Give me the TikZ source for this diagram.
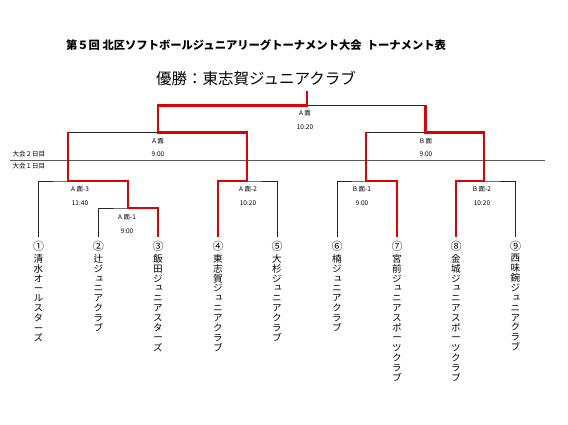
\documentclass[tikz,border=0pt]{standalone}
\usepackage{fontspec}
\usepackage{graphicx}
\setmainfont{Noto Sans CJK JP}
\newfontfamily\vfont[RawFeature=+vert]{Noto Sans CJK JP}
\newcommand\vlong{\rotatebox[origin=c]{-90}{ー}}
\begin{document}
\begin{tikzpicture}[x=1pt,y=-1pt,
  bk/.style={draw=black!85,line width=0.8pt},
  rd/.style={draw=red!88!black,line width=2.4pt,line join=miter},
  dline/.style={draw=black!65,line width=1pt},
  lbl/.style={inner sep=0pt,font=\fontsize{6.5}{7}\selectfont},
  num/.style={inner sep=0pt,font=\fontsize{11}{11}\selectfont},
  team/.style={inner sep=0pt,anchor=north,align=center,font=\vfont\fontsize{9.6}{9.9}\selectfont},
]
\useasboundingbox (0,0) rectangle (568,425);
% titles
\node[inner sep=0pt,font=\bfseries\fontsize{11.3}{12}\selectfont] (title) at (256,45) {第５回 北区ソフトボールジュニアリーグトーナメント大会\ \ トーナメント表};
\node[inner sep=0pt,font=\fontsize{15.5}{16}\selectfont] (winner) at (256,79) {優勝：東志賀ジュニアクラブ};
% day line
\coordinate (dl) at (10,160.5);
\coordinate (dr) at (545,160.5);
\draw[dline] (dl) -- (dr);
\node[lbl,anchor=west] (d2) at (12.5,154) {大会２日目};
\node[lbl,anchor=west] (d1) at (12.5,166.5) {大会１日目};
% team tops
\foreach \i/\x in {1/38.5,2/98.3,3/158,4/218,5/277,6/337,7/397,8/456,9/515.5}{
  \coordinate (p\i) at (\x,237);
}
% numbers
\node[num] (c1) at (38.5,246) {①};
\node[num] (c2) at (98.3,246) {②};
\node[num] (c3) at (158,246) {③};
\node[num] (c4) at (218,246) {④};
\node[num] (c5) at (277,246) {⑤};
\node[num] (c6) at (337,246) {⑥};
\node[num] (c7) at (397,246) {⑦};
\node[num] (c8) at (456,246) {⑧};
\node[num] (c9) at (515.5,246) {⑨};
% names
\node[team] (n1) at (38.5,254) {清\\水\\オ\\\vlong\\ル\\ス\\タ\\\vlong\\ズ};
\node[team] (n2) at (98.3,254) {辻\\ジ\\ュ\\ニ\\ア\\ク\\ラ\\ブ};
\node[team] (n3) at (158,254) {飯\\田\\ジ\\ュ\\ニ\\ア\\ス\\タ\\\vlong\\ズ};
\node[team] (n4) at (218,254) {東\\志\\賀\\ジ\\ュ\\ニ\\ア\\ク\\ラ\\ブ};
\node[team] (n5) at (277,254) {大\\杉\\ジ\\ュ\\ニ\\ア\\ク\\ラ\\ブ};
\node[team] (n6) at (337,254) {楠\\ジ\\ュ\\ニ\\ア\\ク\\ラ\\ブ};
\node[team] (n7) at (397,254) {宮\\前\\ジ\\ュ\\ニ\\ア\\ス\\ポ\\\vlong\\ツ\\ク\\ラ\\ブ};
\node[team] (n8) at (456,254) {金\\城\\ジ\\ュ\\ニ\\ア\\ス\\ポ\\\vlong\\ツ\\ク\\ラ\\ブ};
\node[team] (n9) at (515.5,254) {西\\味\\鋺\\ジ\\ュ\\ニ\\ア\\ク\\ラ\\ブ};
% junctions
\coordinate (ma1) at (128,208);
\coordinate (ma3) at (68,181);
\coordinate (ma2) at (247,181);
\coordinate (msa) at (158,132.5);
\coordinate (mb1) at (366,181);
\coordinate (mb2) at (484,181);
\coordinate (msb) at (425.5,132.5);
\coordinate (mf) at (307,105.5);
\coordinate (champ) at (307,91);
% black brackets
\draw[bk] (p2) |- (ma1) -| (p3);
\draw[bk] (p1) |- (ma3) -| (ma1);
\draw[bk] (p4) |- (ma2) -| (p5);
\draw[bk] (ma3) |- (msa) -| (ma2);
\draw[bk] (p6) |- (mb1) -| (p7);
\draw[bk] (p8) |- (mb2) -| (p9);
\draw[bk] (mb1) |- (msb) -| (mb2);
\draw[bk] (msa) |- (mf) -| (msb);
% red winner paths
\draw[rd] (p3) |- (ma1) |- (ma3) -- (ma3 |- msa);
\draw[rd] (p4) |- (ma2) |- (msa) |- (mf) -- (champ);
\draw[rd] (p7) |- (mb1) -- (mb1 |- msb);
\draw[rd] (p8) |- (mb2) |- (msb) -- (msb |- mf);
% match labels
\node[lbl] (lf) at (305,113) {A 面};
\node[lbl] (lft) at (305,127) {10:20};
\node[lbl] (lsa) at (158,141) {A 面};
\node[lbl] (lsat) at (158,154) {9:00};
\node[lbl] (la3) at (80,189) {A 面-3};
\node[lbl] (la3t) at (80,203) {11:40};
\node[lbl] (la1) at (127,217) {A 面-1};
\node[lbl] (la1t) at (127,231) {9:00};
\node[lbl] (la2) at (248,189) {A 面-2};
\node[lbl] (la2t) at (248,203) {10:20};
\node[lbl] (lsb) at (426,141) {B 面};
\node[lbl] (lsbt) at (426,154) {9:00};
\node[lbl] (lb1) at (362,189) {B 面-1};
\node[lbl] (lb1t) at (362,203) {9:00};
\node[lbl] (lb2) at (482,189) {B 面-2};
\node[lbl] (lb2t) at (482,203) {10:20};
\end{tikzpicture}
\end{document}
